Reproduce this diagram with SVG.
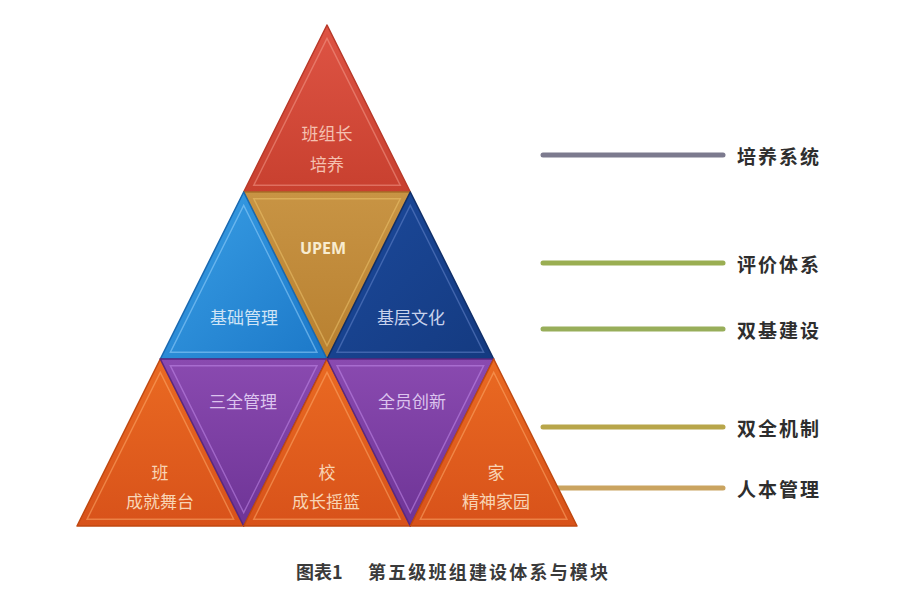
<svg xmlns="http://www.w3.org/2000/svg" width="900" height="600" viewBox="0 0 900 600">
<defs>
<linearGradient id="gRed" x1="0" y1="0" x2="0" y2="1"><stop offset="0" stop-color="#de5444"/><stop offset="1" stop-color="#c8402f"/></linearGradient>
<linearGradient id="gGold" x1="0" y1="0" x2="0" y2="1"><stop offset="0" stop-color="#c89444"/><stop offset="1" stop-color="#b88030"/></linearGradient>
<linearGradient id="gLBlue" x1="0" y1="0" x2="1" y2="1"><stop offset="0" stop-color="#3aa0e6"/><stop offset="1" stop-color="#1c78c8"/></linearGradient>
<linearGradient id="gDBlue" x1="0" y1="0" x2="1" y2="1"><stop offset="0" stop-color="#1c4a9c"/><stop offset="1" stop-color="#143a80"/></linearGradient>
<linearGradient id="gPurple" x1="0" y1="0" x2="0" y2="1"><stop offset="0" stop-color="#8a4ab0"/><stop offset="1" stop-color="#6e3496"/></linearGradient>
<linearGradient id="gOrange" x1="0" y1="0" x2="0" y2="1"><stop offset="0" stop-color="#ea6a22"/><stop offset="1" stop-color="#d8521a"/></linearGradient>
</defs>
<style>
.tri{stroke-width:1.5;stroke-linejoin:round}
.bev{fill:none;stroke-width:1.6;stroke-opacity:0.5}
.lbl{font-family:"Noto Sans CJK SC","Noto Sans",sans-serif;font-size:17px;text-anchor:middle}
.side{font-family:"Noto Sans CJK SC","Noto Sans",sans-serif;font-size:19px;font-weight:bold;fill:#2e2e2e;letter-spacing:2px}
.cap{font-family:"Noto Sans CJK SC","Noto Sans",sans-serif;font-size:18px;font-weight:bold;fill:#3a3a3a}
.ln{stroke-width:5;stroke-linecap:round;fill:none}
</style>
<rect width="900" height="600" fill="#ffffff"/>
<g id="connectors">
<line class="ln" x1="543" y1="155" x2="723" y2="155" stroke="#7c7a8e"/>
<line class="ln" x1="543" y1="263" x2="723" y2="263" stroke="#9aae52"/>
<line class="ln" x1="543" y1="329" x2="723" y2="329" stroke="#98ae5a"/>
<line class="ln" x1="543" y1="427" x2="723" y2="427" stroke="#b8a64a"/>
<line class="ln" x1="543" y1="488" x2="723" y2="488" stroke="#caa460"/>
</g>
<g id="node-top">
<polygon class="tri" points="327,25 243.7,192 410.3,192" fill="url(#gRed)" stroke="#b83828"/>
<polygon class="bev" points="327,25 243.7,192 410.3,192" stroke="#f5a090" transform="translate(327,136.3) scale(0.88) translate(-327,-136.3)"/>
<text class="lbl" x="327" y="140" fill="#f4c0b0" font-size="19">班组长</text>
<text class="lbl" x="327" y="171" fill="#f4c0b0" font-size="19">培养</text>
</g>
<g id="node-upem">
<polygon class="tri" points="243.7,192 410.3,192 327,359" fill="url(#gGold)" stroke="#a87028"/>
<polygon class="bev" points="243.7,192 410.3,192 327,359" stroke="#f0c870" transform="translate(327,247.7) scale(0.88) translate(-327,-247.7)"/>
<text x="323" y="254" fill="#f8ecd0" font-family="'Open Sans','DejaVu Sans',sans-serif" font-weight="bold" font-size="16" text-anchor="middle">UPEM</text>
</g>
<g id="node-jichu">
<polygon class="tri" points="243.7,192 160.3,359 327,359" fill="url(#gLBlue)" stroke="#1868b0"/>
<polygon class="bev" points="243.7,192 160.3,359 327,359" stroke="#a0d8ff" transform="translate(243.7,303.3) scale(0.88) translate(-243.7,-303.3)"/>
<text class="lbl" x="244" y="324" fill="#cfe4f6">基础管理</text>
</g>
<g id="node-jiceng">
<polygon class="tri" points="410.3,192 327,359 493.7,359" fill="url(#gDBlue)" stroke="#0f2e68"/>
<polygon class="bev" points="410.3,192 327,359 493.7,359" stroke="#6a8ad0" transform="translate(410.3,303.3) scale(0.88) translate(-410.3,-303.3)"/>
<text class="lbl" x="411" y="324" fill="#c8d2ec">基层文化</text>
</g>
<g id="node-ban">
<polygon class="tri" points="160.3,359 77,526 243.7,526" fill="url(#gOrange)" stroke="#c04810"/>
<polygon class="bev" points="160.3,359 77,526 243.7,526" stroke="#ffb070" transform="translate(160.3,470.3) scale(0.88) translate(-160.3,-470.3)"/>
<text class="lbl" x="160" y="479" fill="#f8d4b4">班</text>
<text class="lbl" x="160" y="508" fill="#f8d4b4" font-size="16">成就舞台</text>
</g>
<g id="node-sanquan">
<polygon class="tri" points="160.3,359 327,359 243.7,526" fill="url(#gPurple)" stroke="#5a2880"/>
<polygon class="bev" points="160.3,359 327,359 243.7,526" stroke="#c890f0" transform="translate(243.7,414.7) scale(0.88) translate(-243.7,-414.7)"/>
<text class="lbl" x="243" y="408" fill="#dcc4ee">三全管理</text>
</g>
<g id="node-xiao">
<polygon class="tri" points="327,359 243.7,526 410.3,526" fill="url(#gOrange)" stroke="#c04810"/>
<polygon class="bev" points="327,359 243.7,526 410.3,526" stroke="#ffb070" transform="translate(327,470.3) scale(0.88) translate(-327,-470.3)"/>
<text class="lbl" x="327" y="479" fill="#f8d4b4">校</text>
<text class="lbl" x="326" y="508" fill="#f8d4b4" font-size="16">成长摇篮</text>
</g>
<g id="node-quanyuan">
<polygon class="tri" points="327,359 493.7,359 410.3,526" fill="url(#gPurple)" stroke="#5a2880"/>
<polygon class="bev" points="327,359 493.7,359 410.3,526" stroke="#c890f0" transform="translate(410.3,414.7) scale(0.88) translate(-410.3,-414.7)"/>
<text class="lbl" x="412" y="408" fill="#dcc4ee">全员创新</text>
</g>
<g id="node-jia">
<polygon class="tri" points="493.7,359 410.3,526 577,526" fill="url(#gOrange)" stroke="#c04810"/>
<polygon class="bev" points="493.7,359 410.3,526 577,526" stroke="#ffb070" transform="translate(493.7,470.3) scale(0.88) translate(-493.7,-470.3)"/>
<text class="lbl" x="496" y="479" fill="#f8d4b4">家</text>
<text class="lbl" x="496" y="508" fill="#f8d4b4" font-size="16">精神家园</text>
</g>
<g id="labels">
<text class="side" x="737" y="164">培养系统</text>
<text class="side" x="737" y="272">评价体系</text>
<text class="side" x="737" y="338">双基建设</text>
<text class="side" x="737" y="436">双全机制</text>
<text class="side" x="737" y="497">人本管理</text>
</g>
<g id="caption">
<text class="cap" x="296" y="579">图表1</text>
<text class="cap" x="368" y="579" textLength="240" lengthAdjust="spacing">第五级班组建设体系与模块</text>
</g>
</svg>
